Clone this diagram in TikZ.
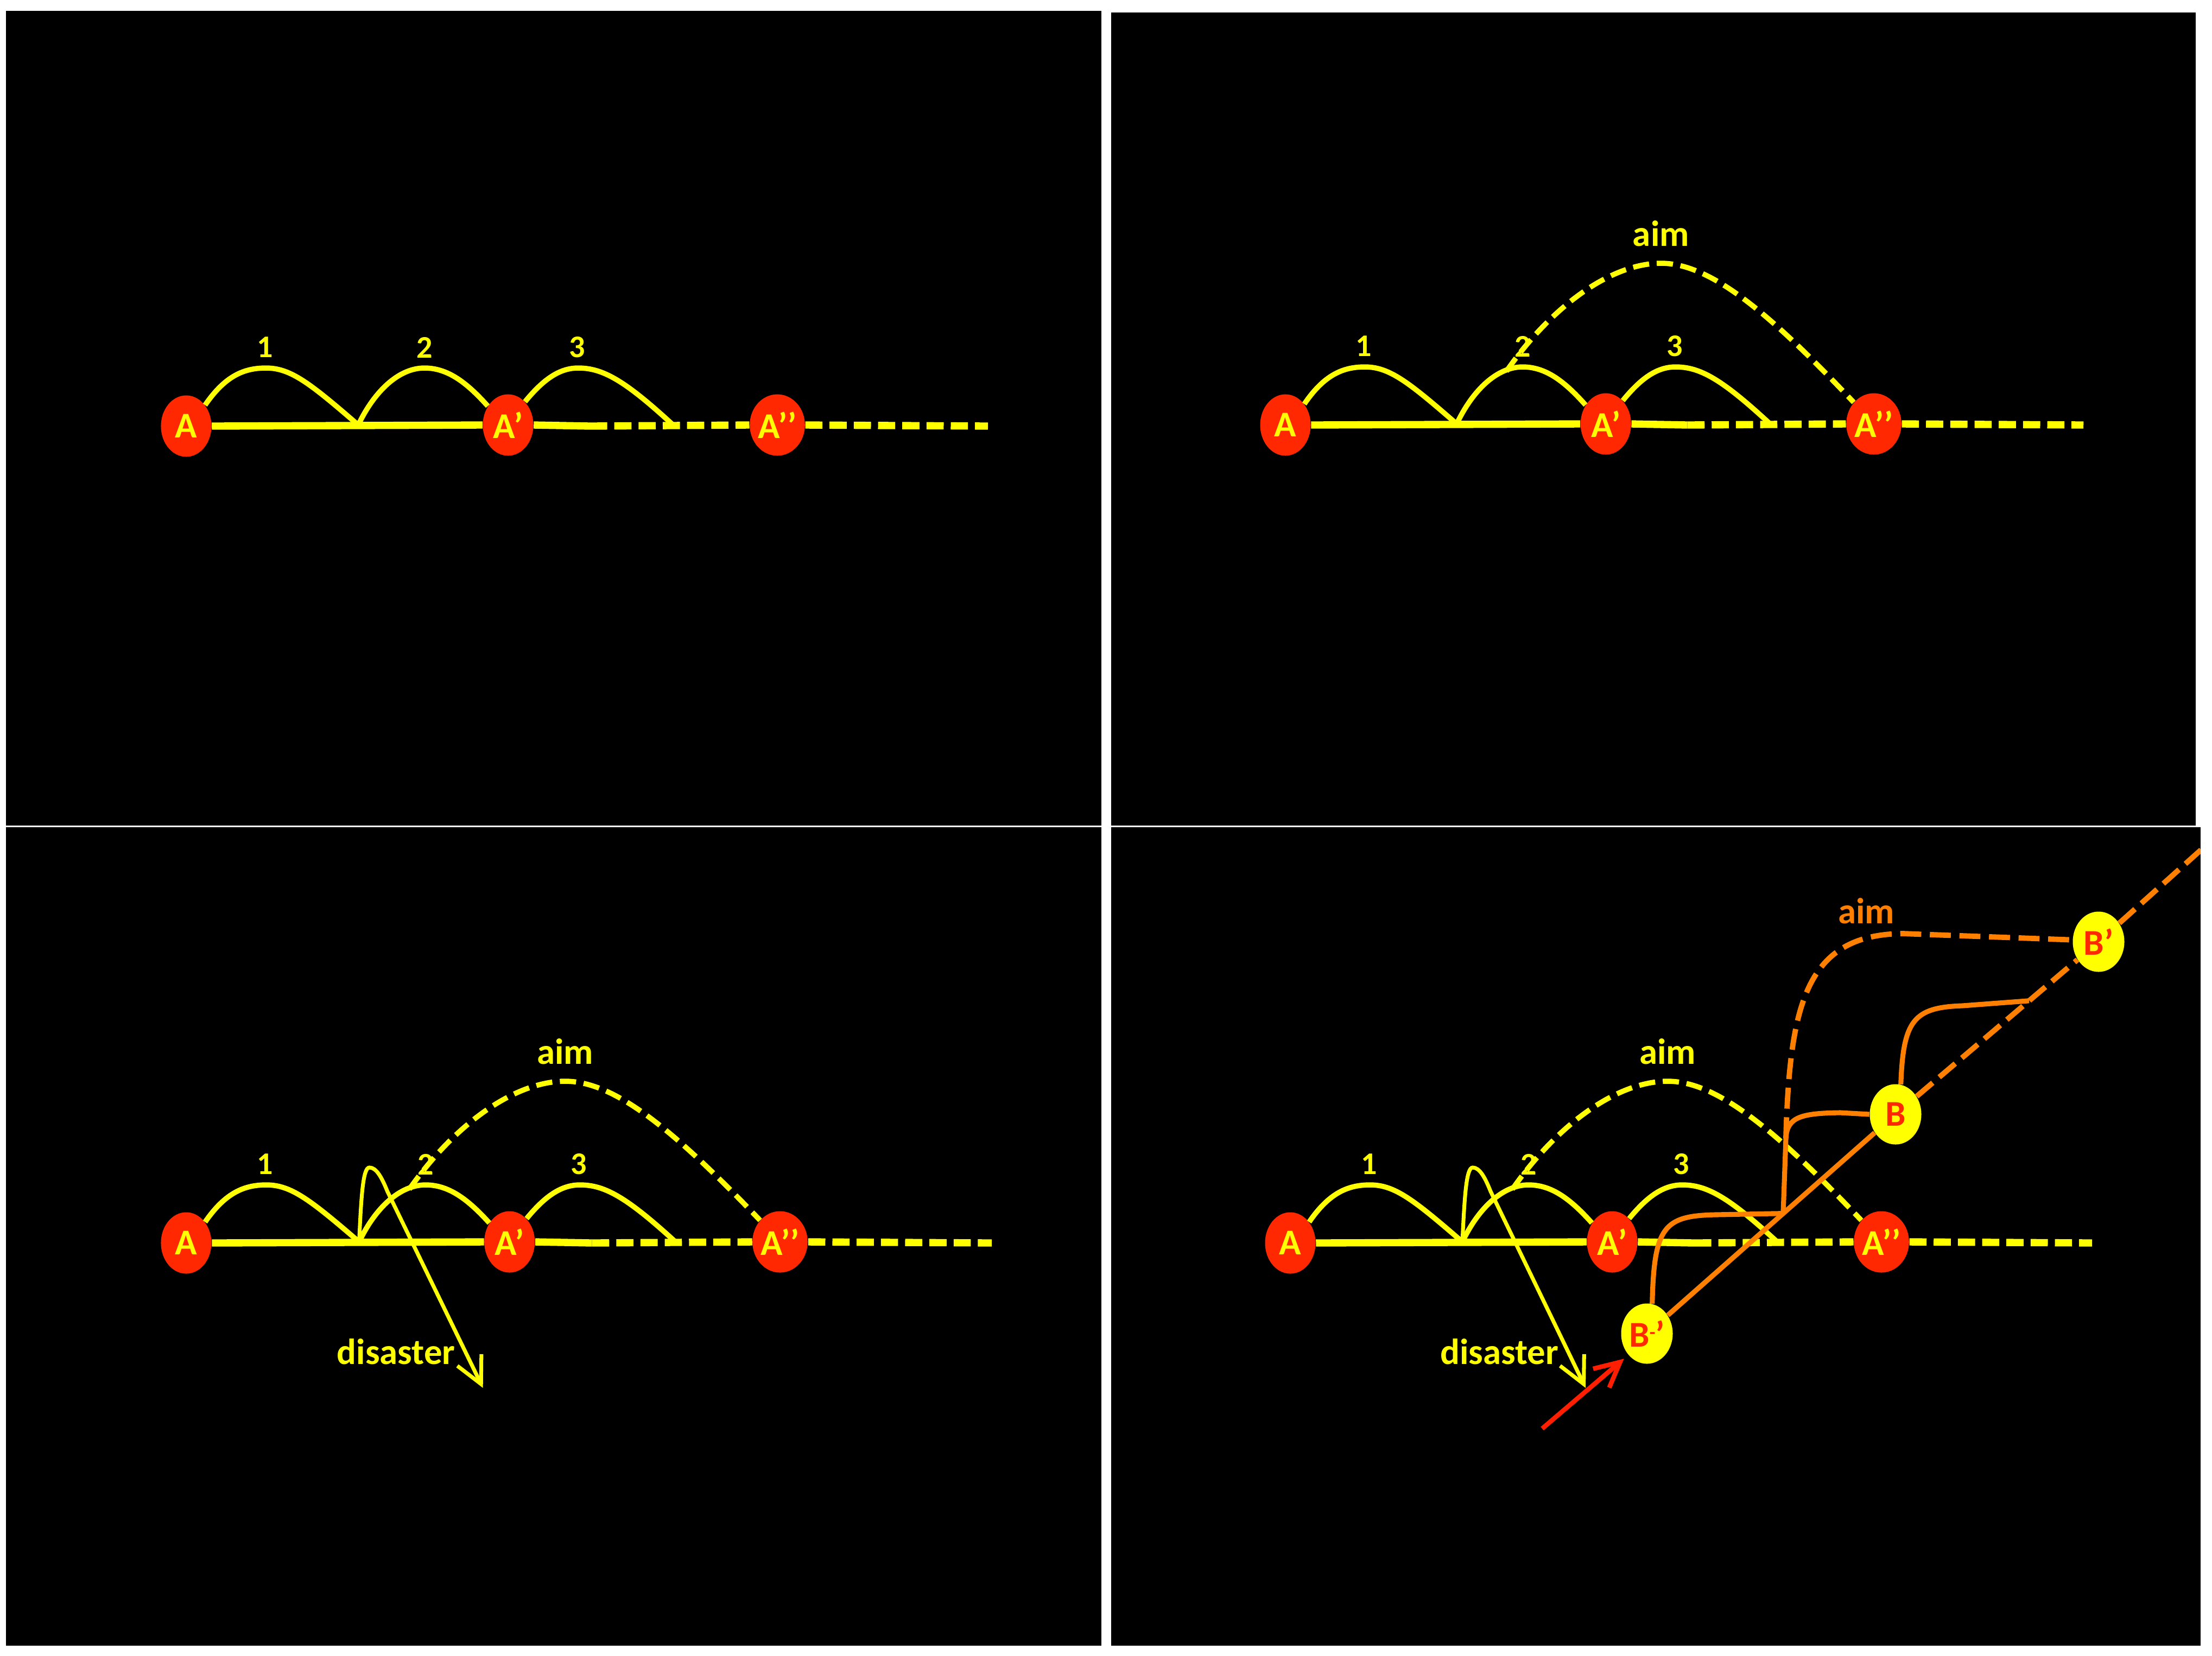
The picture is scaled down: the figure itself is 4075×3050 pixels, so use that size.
\documentclass[tikz,border=0pt]{standalone}
\usepackage{fontspec}
\setmainfont{Carlito}
\usetikzlibrary{shapes.geometric,arrows.meta,calc}
\definecolor{yel}{RGB}{255,255,0}
\definecolor{redf}{RGB}{255,40,0}
\definecolor{orng}{RGB}{255,128,0}
\definecolor{redarrow}{RGB}{255,30,0}

\newcommand\basepanel[1]{%
  \node[anode] (#1A) at (343,785) {A};
  \node[anode] (#1Ap) at (936,783) {A’};
  \node[anode] (#1App) at (1432,783) {A’’};
  \coordinate (#1J) at (660,783);
  \coordinate (#1S) at (1087,785);
  \coordinate (#1E) at (1820,785);
  \coordinate (#1H) at (1240,783);
  \draw[ground] (#1A.east) -- (#1Ap.west);
  \draw[ground] (#1Ap.east) -- (#1S);
  \draw[grounddash] (#1S) -- (#1App.west);
  \draw[grounddash] (#1App.east) -- (#1E);
  \draw[hop] (#1A.48) .. controls (415,692) and (450,678) .. (490,678) .. controls (535,678) and (570,705) .. (#1J);
  \draw[hop] (#1J) .. controls (690,720) and (735,678) .. (782,678) .. controls (825,678) and (860,705) .. (#1Ap.137);
  \draw[hop] (#1Ap.54) .. controls (1000,700) and (1030,678) .. (1065,678) .. controls (1110,678) and (1150,700) .. (#1H);
  \node[numlabel] (#1n1) at (488,640) {1};
  \node[numlabel] (#1n2) at (782,640) {2};
  \node[numlabel] (#1n3) at (1063,640) {3};
}
\newcommand\aimarc[1]{%
  \coordinate (#1G) at (752,686);
  \draw[aimdash] (#1G) .. controls (840,560) and (950,487) .. (1038,487) .. controls (1130,487) and (1240,580) .. (#1App.133);
  \node[wordlabel] (#1aim) at (1038,432) {aim};
}
\newcommand\disasterpath[1]{%
  \coordinate (#1T) at (887,1052);
  \draw[fall] (#1J) .. controls (664,700) and (667,646) .. (679,646) .. controls (692,646) and (702,665) .. (712,690) -- (#1T);
  \node[wordlabel] (#1dis) at (728,985) {disaster};
}

\begin{document}
\begin{tikzpicture}[x=0.01cm,y=-0.01cm,
  anode/.style={ellipse,fill=redf,text=yel,minimum width=0.93cm,minimum height=1.13cm,inner sep=0pt,font=\fontsize{19pt}{20pt}\selectfont\bfseries},
  bnode/.style={ellipse,fill=yel,text=redf,minimum width=0.95cm,minimum height=1.11cm,inner sep=0pt,font=\fontsize{19pt}{20pt}\selectfont\bfseries},
  ground/.style={draw=yel,line width=3.8pt},
  grounddash/.style={ground,dash pattern=on 9pt off 3.7pt},
  hop/.style={draw=yel,line width=2.7pt},
  aimdash/.style={draw=yel,line width=2.7pt,dash pattern=on 8.5pt off 4pt},
  fall/.style={draw=yel,line width=2pt,-{Straight Barb[length=14pt,width=14pt]}},
  osolid/.style={draw=orng,line width=2.6pt},
  odash/.style={draw=orng,line width=2.8pt,dash pattern=on 11pt off 4.5pt},
  redarr/.style={draw=redarrow,line width=2.4pt,-{Straight Barb[length=13pt,width=13pt]}},
  numlabel/.style={text=yel,font=\fontsize{16.5pt}{18pt}\selectfont\bfseries},
  wordlabel/.style={text=yel,font=\fontsize{19pt}{21pt}\selectfont\bfseries},
  olabel/.style={text=orng,font=\fontsize{19pt}{21pt}\selectfont\bfseries}
]
\useasboundingbox (0,0) rectangle (4075,3050);
\fill[white] (0,0) rectangle (4075,3050);
\fill[black] (11,20) rectangle (2029,1521);
\fill[black] (2047,23) rectangle (4045,1521);
\fill[black] (11,1524) rectangle (2029,3032);
\fill[black] (2047,1524) rectangle (4054,3032);

% top left
\begin{scope}
  \basepanel{tl}
\end{scope}
% top right
\begin{scope}[shift={(2026.6,-2)},xscale=0.9954]
  \basepanel{tr}
  \aimarc{tr}
\end{scope}
% bottom left
\begin{scope}[shift={(-1.6,1505)},xscale=1.0046]
  \basepanel{bl}
  \aimarc{bl}
  \disasterpath{bl}
\end{scope}
% bottom right
\begin{scope}
  \clip (2047,1524) rectangle (4054,3032);
  \begin{scope}[shift={(2034,1505)}]
    \basepanel{br}
    \aimarc{br}
    \disasterpath{br}
  \end{scope}
  \node[bnode] (Bm) at (3034,2457) {B\raisebox{0.45ex}{\fontsize{10pt}{10pt}\selectfont -}’};
  \node[bnode] (B) at (3492,2053) {B};
  \node[bnode] (Bp) at (3866,1735) {B’};
  \coordinate (Bfar) at (4070,1552);
  \coordinate (K1) at ($(Bm)!0.548!(B)$);
  \coordinate (K2) at (3290,2097);
  \coordinate (K3) at ($(B)!0.658!(Bp)$);
  \coordinate (rs) at (2841,2632);
  \draw[osolid] (Bm) -- (B);
  \draw[odash] (B) -- (Bp);
  \draw[odash] (Bp) -- (Bfar);
  \draw[osolid] (Bm.80) .. controls (3047,2260) and (3065,2240) .. (3160,2238) -- (K1);
  \draw[osolid] (K1) -- (K2) .. controls (3292,2058) and (3318,2051) .. (3390,2050) -- (B.west);
  \draw[osolid] (B.80) .. controls (3506,1880) and (3525,1856) .. (3615,1853) -- (K3);
  \draw[odash] (K2) .. controls (3297,1850) and (3327,1722) .. (3505,1720) -- (Bp.176);
  \node[olabel] (oaim) at (3438,1678) {aim};
  \draw[redarr,shorten >=3pt] (rs) -- (Bm.229);
\end{scope}
\end{tikzpicture}
\end{document}
